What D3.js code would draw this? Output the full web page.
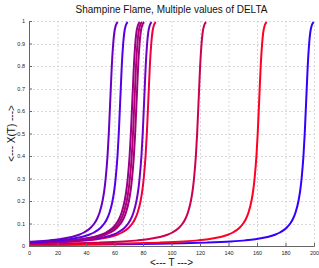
<!DOCTYPE html>
<html><head><meta charset="utf-8">
<script src="https://cdn.jsdelivr.net/npm/d3@7"></script>
<style>
html,body{margin:0;padding:0;background:#fff;}
svg{display:block;font-family:"Liberation Sans",Arial,sans-serif;}
</style></head>
<body><svg id="c" width="319" height="268"></svg>
<script>
// ---- data: [T, X(T)] pairs for each run ----
const runA = [[0,.0185],[4.1,.02],[14.3,.025],[21.2,.03],[29.8,.04],[35.1,.05],[38.6,.06],[43.1,.08],[45.8,.1],[47.7,.12],[49.6,.15],[51.6,.2],[52.9,.25],[53.8,.3],[55.1,.4],[56.0,.5],[56.7,.6],[57.4,.7],[58.1,.8],[59.1,.9],[59.9,.95],[60.9,.98],[61.6,.99],[62.3,.995]];
const runB = [[0,.0164],[11.1,.02],[21.3,.025],[28.2,.03],[36.8,.04],[42.1,.05],[45.6,.06],[50.1,.08],[52.8,.1],[54.7,.12],[56.6,.15],[58.6,.2],[59.9,.25],[60.8,.3],[62.1,.4],[63.0,.5],[63.7,.6],[64.4,.7],[65.1,.8],[66.1,.9],[66.9,.95],[67.9,.98],[68.6,.99],[69.3,.995]];
const runC1 = [[0,.0144],[2.65,.015],[19.6,.02],[29.8,.025],[36.7,.03],[45.3,.04],[50.6,.05],[54.1,.06],[58.6,.08],[61.3,.1],[63.2,.12],[65.1,.15],[67.1,.2],[68.4,.25],[69.3,.3],[70.6,.4],[71.5,.5],[72.2,.6],[72.9,.7],[73.6,.8],[74.6,.9],[75.4,.95],[76.4,.98],[77.1,.99],[77.8,.995]];
const runC2 = [[0,.0141],[4.15,.015],[21.1,.02],[31.3,.025],[38.2,.03],[46.8,.04],[52.1,.05],[55.6,.06],[60.1,.08],[62.8,.1],[64.7,.12],[66.6,.15],[68.6,.2],[69.9,.25],[70.8,.3],[72.1,.4],[73.0,.5],[73.7,.6],[74.4,.7],[75.1,.8],[76.1,.9],[76.9,.95],[77.9,.98],[78.6,.99],[79.3,.995]];
const runC3 = [[0,.0138],[5.65,.015],[22.6,.02],[32.8,.025],[39.7,.03],[48.3,.04],[53.6,.05],[57.1,.06],[61.6,.08],[64.3,.1],[66.2,.12],[68.1,.15],[70.1,.2],[71.4,.25],[72.3,.3],[73.6,.4],[74.5,.5],[75.2,.6],[75.9,.7],[76.6,.8],[77.6,.9],[78.4,.95],[79.4,.98],[80.1,.99],[80.8,.995]];
const runD = [[0,.0129],[10.95,.015],[27.9,.02],[38.1,.025],[45.0,.03],[53.6,.04],[58.9,.05],[62.4,.06],[66.9,.08],[69.6,.1],[71.5,.12],[73.4,.15],[75.4,.2],[76.7,.25],[77.6,.3],[78.9,.4],[79.8,.5],[80.5,.6],[81.2,.7],[81.9,.8],[82.9,.9],[83.7,.95],[84.7,.98],[85.4,.99],[86.1,.995]];
const runE = [[0,.0125],[13.85,.015],[30.8,.02],[41.0,.025],[47.9,.03],[56.5,.04],[61.8,.05],[65.3,.06],[69.8,.08],[72.5,.1],[74.4,.12],[76.3,.15],[78.3,.2],[79.6,.25],[80.5,.3],[81.8,.4],[82.7,.5],[83.4,.6],[84.1,.7],[84.8,.8],[85.8,.9],[86.6,.95],[87.6,.98],[88.3,.99],[89.0,.995]];
const runF = [[0,.0087],[15.4,.01],[32.3,.012],[49.15,.015],[66.1,.02],[76.3,.025],[83.2,.03],[91.8,.04],[97.1,.05],[100.6,.06],[105.1,.08],[107.8,.1],[109.7,.12],[111.6,.15],[113.6,.2],[114.9,.25],[115.8,.3],[117.1,.4],[118.0,.5],[118.7,.6],[119.4,.7],[120.1,.8],[121.1,.9],[121.9,.95],[122.9,.98],[123.6,.99],[124.3,.995]];
const runG = [[0,.0064],[32.7,.008],[57.9,.01],[74.8,.012],[91.65,.015],[108.6,.02],[118.8,.025],[125.7,.03],[134.3,.04],[139.6,.05],[143.1,.06],[147.6,.08],[150.3,.1],[152.2,.12],[154.1,.15],[156.1,.2],[157.4,.25],[158.3,.3],[159.6,.4],[160.5,.5],[161.2,.6],[161.9,.7],[162.6,.8],[163.6,.9],[164.4,.95],[165.4,.98],[166.1,.99],[166.8,.995]];
const runH = [[0,.0053],[23.7,.006],[65.7,.008],[90.9,.01],[107.8,.012],[124.65,.015],[141.6,.02],[151.8,.025],[158.7,.03],[167.3,.04],[172.6,.05],[176.1,.06],[180.6,.08],[183.3,.1],[185.2,.12],[187.1,.15],[189.1,.2],[190.4,.25],[191.3,.3],[192.6,.4],[193.5,.5],[194.2,.6],[194.9,.7],[195.6,.8],[196.6,.9],[197.4,.95],[198.4,.98],[199.1,.99],[199.8,.995]];
const runs = [runH, runG, runF, runE, runD, runC3, runC2, runC1, runB, runA];
const runColors = ["#3300ff", "#ff0022", "#cc0050", "#ee0040", "#7000c8", "#a0007e", "#b00072", "#98008a", "#5500e6", "#6a00c4"];
const xTicks = [0,20,40,60,80,100,120,140,160,180,200];
const yTicks = [0,0.1,0.2,0.3,0.4,0.5,0.6,0.7,0.8,0.9,1];
const yTickLabels = ["0","0.1","0.2","0.3","0.4","0.5","0.6","0.7","0.8","0.9","1"];
const titleText = "Shampine Flame, Multiple values of DELTA";
const xLabelText = "<--- T --->";
const yLabelText = "<--- X(T) --->";

// ---- drawing ----
const svg = d3.select("#c");
const L = 29, R = 314, T = 21, B = 246;
const x = d3.scaleLinear().domain([0,200]).range([L,R]);
const y = d3.scaleLinear().domain([0,1]).range([B,T]);

// grid
const grid = svg.append("g").attr("stroke","#cfcfcf").attr("stroke-width",0.8).attr("stroke-dasharray","2,2");
grid.selectAll("line.v").data(xTicks.slice(1)).enter().append("line")
  .attr("x1",d=>x(d)+0.5).attr("x2",d=>x(d)+0.5).attr("y1",T).attr("y2",B);
grid.selectAll("line.h").data(yTicks.slice(1)).enter().append("line")
  .attr("y1",d=>Math.round(y(d))+0.5).attr("y2",d=>Math.round(y(d))+0.5).attr("x1",L).attr("x2",R);

// curves
const line = d3.line().x(d=>x(d[0])).y(d=>y(d[1])).curve(d3.curveMonotoneX);
svg.append("g").selectAll("path").data(runs).enter().append("path")
  .attr("d",line).attr("fill","none")
  .attr("stroke",(d,i)=>runColors[i]).attr("stroke-width",2);

// axes
const xa = svg.append("g").attr("transform",`translate(0,${B})`)
  .call(d3.axisBottom(x).tickValues(xTicks).tickSize(-3).tickPadding(5).tickFormat(d3.format("d")));
const ya = svg.append("g").attr("transform",`translate(${L},0)`)
  .call(d3.axisLeft(y).tickValues(yTicks).tickSize(-3).tickPadding(4).tickFormat((d,i)=>yTickLabels[i]));
[xa,ya].forEach(a=>{
  a.select(".domain").attr("stroke","#666").attr("stroke-width",1);
  a.selectAll(".tick line").attr("stroke","#666");
  a.selectAll(".tick text").attr("font-size",5.5).attr("fill","#222").attr("font-family","Liberation Sans, Arial, sans-serif");
});

// titles
svg.append("text").attr("x",(L+R)/2).attr("y",13).attr("text-anchor","middle")
  .attr("font-size",10).attr("fill","#111").text(titleText);
svg.append("text").attr("x",(L+R)/2).attr("y",266).attr("text-anchor","middle")
  .attr("font-size",10).attr("fill","#111").text(xLabelText);
svg.append("text").attr("transform",`translate(15,${(T+B)/2}) rotate(-90)`).attr("text-anchor","middle")
  .attr("font-size",10).attr("fill","#111").text(yLabelText);
</script>
</body></html>
